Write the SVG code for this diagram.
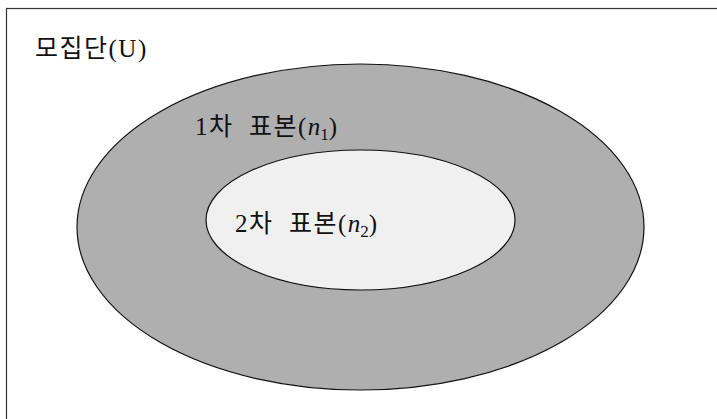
<svg xmlns="http://www.w3.org/2000/svg" width="717" height="419" viewBox="0 0 717 419">
<style>
.t{font-family:"Liberation Serif","Noto Sans CJK KR",serif;font-size:25px;fill:#111;letter-spacing:1.5px}
.i{font-style:italic;letter-spacing:0}
.s{font-size:17px;letter-spacing:0}
</style>
<rect x="0" y="0" width="717" height="419" fill="#ffffff"/>
<g id="frame">
<rect x="6.5" y="8.5" width="730" height="430" fill="none" stroke="#333" stroke-width="1.2"/>
<text class="t" x="35" y="57">모집단(U)</text>
</g>
<g id="sample1">
<ellipse cx="360.5" cy="227" rx="283.5" ry="163" fill="#afafaf" stroke="#111" stroke-width="1.2"/>
<text class="t" x="195" y="135" xml:space="preserve">1차  표본(<tspan class="i">n</tspan><tspan class="s" dy="5">1</tspan><tspan dy="-5">)</tspan></text>
</g>
<g id="sample2">
<ellipse cx="360.5" cy="220" rx="154.5" ry="70" fill="#f0f0f0" stroke="#111" stroke-width="1.2"/>
<text class="t" x="235" y="232" xml:space="preserve">2차  표본(<tspan class="i">n</tspan><tspan class="s" dy="5">2</tspan><tspan dy="-5">)</tspan></text>
</g>
<g id="connectors"/>
</svg>
